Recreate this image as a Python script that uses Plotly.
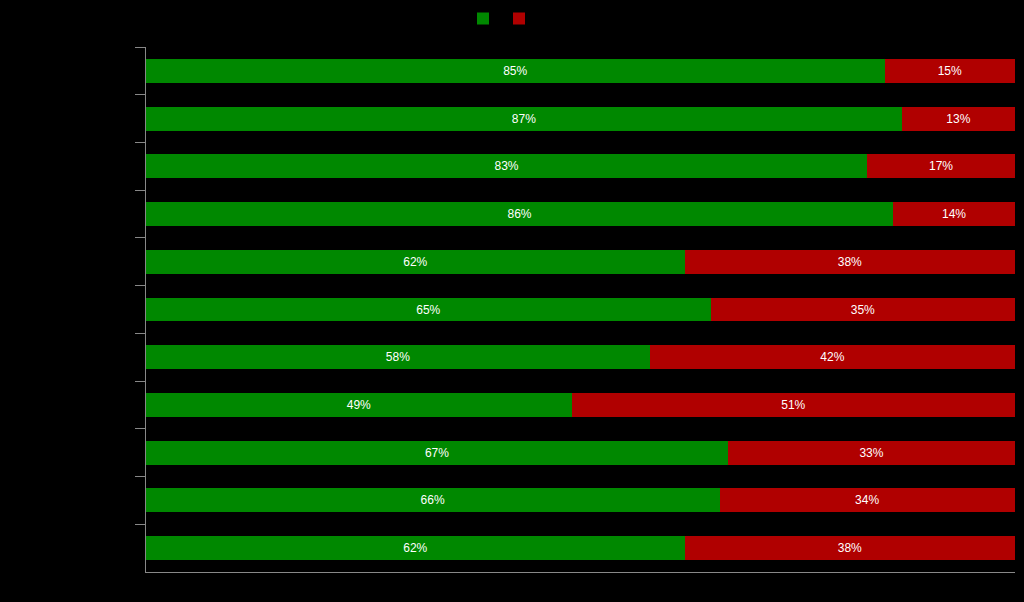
import plotly.graph_objects as go

categories = ["Item 1", "Item 2", "Item 3", "Item 4", "Item 5", "Item 6",
              "Item 7", "Item 8", "Item 9", "Item 10", "Item 11"]
yes_values = [85, 87, 83, 86, 62, 65, 58, 49, 67, 66, 62]
no_values = [15, 13, 17, 14, 38, 35, 42, 51, 33, 34, 38]

fig = go.Figure()
fig.add_trace(go.Bar(
    y=categories, x=yes_values, name="Yes", orientation="h",
    marker=dict(color="#008800", line=dict(width=0)),
    text=[f"{v}%" for v in yes_values], textposition="inside",
    insidetextanchor="middle",
    textfont=dict(color="white", size=12, family="Liberation Sans, Arial, sans-serif"),
    hoverinfo="x+y", legend="legend", showlegend=True,
))
fig.add_trace(go.Bar(
    y=categories, x=no_values, name="No", orientation="h",
    marker=dict(color="#b00000", line=dict(width=0)),
    text=[f"{v}%" for v in no_values], textposition="inside",
    insidetextanchor="middle",
    textfont=dict(color="white", size=12, family="Liberation Sans, Arial, sans-serif"),
    hoverinfo="x+y", legend="legend2", showlegend=True,
))

legend_common = dict(orientation="h", xref="container", xanchor="left",
                     y=1 - 4 / 602, yref="container", yanchor="top",
                     font=dict(color="black", size=12), bgcolor="rgba(0,0,0,0)")

fig.update_layout(
    barmode="stack",
    bargap=0.5,
    showlegend=True,
    width=1024, height=602,
    paper_bgcolor="black", plot_bgcolor="black",
    margin=dict(l=146, r=9, t=47, b=30),
    font=dict(family="Liberation Sans, Arial, sans-serif", size=12, color="black"),
    uniformtext=dict(minsize=12, mode="show"),
    legend=dict(x=463 / 1024, **legend_common),
    legend2=dict(x=499 / 1024, **legend_common),
    xaxis=dict(range=[0, 100], showgrid=False, zeroline=False,
               showline=True, linecolor="#888888", linewidth=1,
               showticklabels=False, ticks=""),
    yaxis=dict(autorange="reversed", showgrid=False, zeroline=False,
               showline=True, linecolor="#888888", linewidth=1,
               ticks="outside", ticklen=10, tickcolor="#888888",
               tickson="boundaries", showticklabels=True,
               tickfont=dict(color="black")),
)

fig.write_html("out.html")
